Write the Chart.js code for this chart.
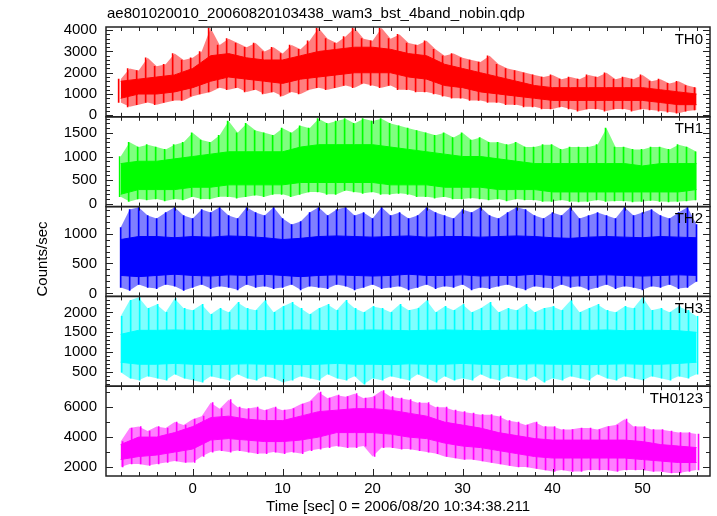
<!DOCTYPE html>
<html>
<head>
<meta charset="utf-8">
<script src="https://cdn.jsdelivr.net/npm/chart.js@4.4.1/dist/chart.umd.min.js"></script>
<style>
  html, body { margin: 0; padding: 0; background: #fff; }
  canvas { display: block; }
</style>
</head>
<body>
<canvas id="lcChart" width="717" height="516"></canvas>
<script>
// === DATA ===
const panelNames = ['TH0', 'TH1', 'TH2', 'TH3', 'TH0123'];
const xTicks = [0, 10, 20, 30, 40, 50];
const th0Ticks = [0, 1000, 2000, 3000, 4000];
const th1Ticks = [0, 500, 1000, 1500];
const th2Ticks = [0, 500, 1000];
const th3Ticks = [500, 1000, 1500, 2000];
const th0123Ticks = [2000, 4000, 6000];
const coreStart = -8, coreStep = 2;   // dense band sampled every 2 s
const spikeStart = -8, spikeStep = 1; // spike extremes sampled every 1 s

// TH0
const th0CoreLo = [800, 1000, 1000, 1100, 1300, 1600, 1800, 1700, 1600, 1500, 1700, 1800, 1900, 2000, 2000, 2000, 1800,
  1700, 1400, 1300, 1100, 1000, 900, 800, 700, 700, 700, 700, 700, 700, 600, 500, 500];
const th0CoreHi = [1600, 1700, 1800, 1900, 2200, 2800, 2900, 2700, 2600, 2600, 2800, 3000, 3100, 3200, 3200, 3100, 2900,
  2800, 2400, 2200, 2000, 1800, 1600, 1400, 1300, 1300, 1300, 1300, 1300, 1300, 1200, 1100, 1000];
const th0SpikeHi = [
  1700, 2200, 2100, 2700, 2300, 2400, 2900, 2600, 2700, 3000, 4100, 3300, 3600,
  3400, 3200, 3400, 3000, 3200, 2900, 3300, 3100, 3500, 4100, 3600, 3400, 3700,
  4100, 3600, 3500, 4100, 3600, 3800, 3400, 3300, 3500, 3100, 2800, 2900, 2700,
  2600, 2500, 2800, 2400, 2200, 2100, 2000, 1900, 1800, 1900, 1700, 1800, 1700,
  1900, 1800, 2000, 1700, 1800, 1700, 1900, 1600, 1700, 1500, 1600, 1400, 1300];
const th0SpikeLo = [
  600, 400, 500, 600, 500, 600, 700, 700, 900, 1000, 1100, 1300, 1200,
  1300, 1100, 1200, 1000, 1100, 900, 1100, 1000, 1200, 1300, 1200, 1300, 1400,
  1300, 1500, 1400, 1300, 1400, 1200, 1200, 1100, 1100, 1000, 900, 800, 800,
  700, 700, 600, 600, 500, 500, 400, 400, 300, 300, 400, 300, 200,
  300, 300, 200, 300, 300, 200, 300, 250, 200, 150, 100, 200, 250];

// TH1
const th1CoreLo = [200, 300, 300, 300, 350, 350, 400, 400, 400, 400, 450, 450, 450, 450, 450, 400, 400,
  400, 350, 350, 350, 300, 300, 300, 250, 250, 250, 250, 250, 250, 250, 250, 300];
const th1CoreHi = [850, 900, 900, 950, 1000, 1050, 1100, 1100, 1100, 1100, 1200, 1250, 1250, 1250, 1250, 1200, 1150,
  1100, 1050, 1000, 1000, 950, 900, 850, 850, 850, 850, 850, 850, 800, 850, 850, 850];
const th1SpikeHi = [
  1000, 1300, 1200, 1250, 1200, 1150, 1250, 1300, 1500, 1350, 1300, 1450, 1750,
  1500, 1700, 1550, 1500, 1450, 1600, 1500, 1650, 1600, 1800, 1700, 1750, 1800,
  1700, 1800, 1750, 1800, 1700, 1650, 1600, 1550, 1500, 1450, 1500, 1400, 1500,
  1350, 1400, 1300, 1300, 1250, 1300, 1200, 1200, 1250, 1250, 1150, 1200, 1200,
  1200, 1250, 1600, 1200, 1200, 1150, 1150, 1200, 1200, 1150, 1250, 1200, 1100];
const th1SpikeLo = [
  150, 50, 100, 80, 100, 60, 100, 80, 150, 100, 100, 150, 150,
  120, 150, 180, 150, 200, 200, 150, 200, 250, 250, 200, 200, 280,
  250, 220, 250, 200, 200, 220, 200, 150, 150, 120, 150, 100, 100,
  120, 100, 80, 100, 60, 100, 80, 80, 50, 50, 80, 50, 40,
  50, 80, 50, 60, 60, 40, 50, 70, 50, 40, 50, 60, 80];

// TH2
const th2CoreLo = [300, 280, 300, 320, 300, 290, 310, 300, 320, 300, 280, 300, 310, 300, 290, 300, 320,
  300, 300, 310, 290, 300, 300, 320, 300, 290, 300, 310, 300, 290, 300, 310, 300];
const th2CoreHi = [900, 950, 950, 930, 950, 940, 960, 950, 930, 900, 920, 950, 960, 950, 940, 950, 960,
  940, 950, 950, 940, 950, 960, 950, 930, 920, 940, 950, 940, 930, 950, 940, 930];
const th2SpikeHi = [
  1100, 1400, 1440, 1300, 1250, 1350, 1440, 1300, 1250, 1400, 1350, 1440, 1300,
  1250, 1440, 1350, 1300, 1440, 1250, 1150, 1200, 1350, 1440, 1300, 1400, 1440,
  1300, 1350, 1250, 1440, 1300, 1350, 1250, 1300, 1440, 1350, 1300, 1250, 1400,
  1350, 1440, 1300, 1250, 1350, 1440, 1400, 1300, 1250, 1350, 1300, 1440, 1250,
  1300, 1350, 1300, 1250, 1440, 1300, 1350, 1400, 1300, 1250, 1350, 1440, 1150];
const th2SpikeLo = [
  100, 50, 150, 100, 80, 150, 120, 50, 100, 150, 80, 120, 100,
  60, 150, 100, 120, 80, 100, 150, 60, 120, 100, 80, 150, 120,
  60, 100, 150, 80, 100, 120, 60, 100, 150, 80, 120, 100, 150,
  60, 100, 80, 120, 150, 100, 60, 120, 100, 80, 150, 100, 120,
  60, 100, 150, 80, 120, 100, 60, 120, 100, 150, 80, 100, 200];

// TH3
const th3CoreLo = [750, 700, 700, 720, 700, 690, 700, 710, 700, 700, 690, 700, 720, 700, 700, 690, 710,
  700, 700, 720, 700, 690, 700, 710, 700, 700, 690, 700, 710, 700, 700, 720, 750];
const th3CoreHi = [1450, 1550, 1550, 1560, 1550, 1540, 1560, 1550, 1540, 1550, 1560, 1550, 1540, 1550, 1560, 1550, 1540,
  1550, 1560, 1550, 1540, 1550, 1550, 1560, 1540, 1550, 1550, 1560, 1540, 1550, 1550, 1540, 1500];
const th3SpikeHi = [
  1900, 2300, 2380, 2100, 2200, 2000, 2350, 2100, 2050, 2200, 1950, 2100, 2000,
  2250, 2100, 2050, 2300, 2000, 2150, 2250, 2100, 1950, 2100, 2200, 2050, 2300,
  2100, 2000, 2150, 2100, 2000, 2200, 2050, 2100, 2300, 2000, 2150, 2050, 2200,
  2000, 2100, 2250, 2000, 2100, 2050, 2200, 2000, 2100, 2150, 2050, 2300, 2000,
  2100, 2200, 2050, 2000, 2150, 2100, 2380, 2050, 2100, 2000, 2150, 2050, 1900];
const th3SpikeLo = [
  500, 350, 300, 400, 350, 300, 450, 350, 300, 250, 400, 350, 300,
  450, 350, 300, 400, 350, 250, 300, 400, 350, 300, 450, 350, 300,
  400, 200, 350, 300, 400, 350, 300, 450, 350, 250, 400, 300, 350,
  300, 450, 350, 300, 400, 350, 300, 400, 250, 350, 300, 400, 350,
  300, 450, 350, 300, 400, 350, 300, 400, 350, 300, 400, 350, 450];

// TH0123
const th0123CoreLo = [2500, 2700, 2800, 3000, 3200, 3800, 3900, 3800, 3700, 3700, 3800, 4000, 4300, 4300, 4300, 4200, 4000,
  3900, 3600, 3400, 3300, 3100, 2900, 2700, 2600, 2600, 2600, 2600, 2600, 2500, 2400, 2300, 2300];
const th0123CoreHi = [3500, 4000, 4000, 4300, 4700, 5300, 5400, 5200, 5100, 5100, 5400, 5700, 5800, 5900, 5900, 5800, 5600,
  5400, 5000, 4800, 4600, 4300, 4100, 3900, 3800, 3800, 3800, 3800, 3800, 3700, 3500, 3400, 3300];
const th0123SpikeHi = [
  3700, 4600, 4700, 4400, 4700, 4600, 5000, 4800, 5200, 5400, 6300, 5900, 6500,
  6000, 5900, 6000, 5800, 6000, 5800, 5900, 6200, 6400, 7000, 6600, 6800, 6700,
  6900, 6600, 6700, 7100, 6700, 6600, 6500, 6300, 6300, 6000, 6000, 5800, 5700,
  5600, 5500, 5500, 5400, 5100, 5000, 4800, 5000, 4700, 4700, 4500, 4500, 4600,
  4600, 4500, 4700, 4800, 5200, 4700, 4700, 4500, 4500, 4400, 4300, 4300, 4200];
const th0123SpikeLo = [
  2000, 2200, 2200, 2100, 2200, 2300, 2400, 2300, 2300, 2700, 3000, 3100, 3000,
  3100, 3000, 2900, 2900, 3000, 2900, 3000, 2900, 3100, 3200, 3300, 3400, 3300,
  3300, 3400, 2700, 3300, 3300, 3200, 3200, 3100, 3000, 2900, 2700, 2600, 2500,
  2500, 2400, 2300, 2200, 2100, 2000, 2000, 1900, 1800, 1700, 1800, 1700, 1700,
  1800, 1800, 1800, 1700, 1800, 1800, 1800, 1700, 1700, 1600, 1600, 1700, 1800];

// === PANELS ===
const FONT = '"Liberation Sans", Arial, Helvetica, sans-serif';
const panels = [
  { id: 'y0', color: '#ff0000', pale: 'rgba(255,0,0,0.5)', min: -70, max: 4150, step: 1000, minor: 200, ticks: th0Ticks,
    lo: th0CoreLo, hi: th0CoreHi, sHi: th0SpikeHi, sLo: th0SpikeLo },
  { id: 'y1', color: '#00ff00', pale: 'rgba(0,255,0,0.5)', min: -60, max: 1840, step: 500, minor: 100, ticks: th1Ticks,
    lo: th1CoreLo, hi: th1CoreHi, sHi: th1SpikeHi, sLo: th1SpikeLo },
  { id: 'y2', color: '#0000ff', pale: 'rgba(0,0,255,0.5)', min: -50, max: 1450, step: 500, minor: 100, ticks: th2Ticks,
    lo: th2CoreLo, hi: th2CoreHi, sHi: th2SpikeHi, sLo: th2SpikeLo },
  { id: 'y3', color: '#00ffff', pale: 'rgba(0,255,255,0.5)', min: 150, max: 2400, step: 500, minor: 100, ticks: th3Ticks,
    lo: th3CoreLo, hi: th3CoreHi, sHi: th3SpikeHi, sLo: th3SpikeLo },
  { id: 'y4', color: '#ff00ff', pale: 'rgba(255,0,255,0.5)', min: 1400, max: 7400, step: 2000, minor: 1000, ticks: th0123Ticks,
    lo: th0123CoreLo, hi: th0123CoreHi, sHi: th0123SpikeHi, sLo: th0123SpikeLo }
];

const datasets = [];
panels.forEach(p => {
  const core = arr => arr.map((v, i) => ({ x: coreStart + i * coreStep, y: v }));
  const env = arr => arr.map((v, i) => ({ x: spikeStart + i * spikeStep, y: v }));
  const spikes = p.sHi.map((v, i) => ({ x: spikeStart + i * spikeStep, y: [p.sLo[i], v] }));
  const base = { type: 'line', yAxisID: p.id, pointRadius: 0, borderWidth: 1 };
  datasets.push({ ...base, order: 3, data: env(p.sLo), borderColor: 'transparent', fill: false });
  datasets.push({ ...base, order: 3, data: env(p.sHi), borderColor: 'transparent', backgroundColor: p.pale, fill: '-1' });
  datasets.push({ ...base, order: 2, data: core(p.lo), borderColor: p.color, fill: false });
  datasets.push({ ...base, order: 2, data: core(p.hi), borderColor: p.color, backgroundColor: p.color, fill: '-1' });
  datasets.push({ type: 'bar', order: 1, yAxisID: p.id, data: spikes, backgroundColor: p.color, barThickness: 1, borderWidth: 0 });
});

const scales = {
  x: {
    type: 'linear', min: -9.63, max: 57.5, offset: false,
    grid: { display: false, drawTicks: false }, border: { display: false },
    ticks: { color: '#000', padding: 4, autoSkip: false, font: { family: FONT, size: 15 } },
    afterBuildTicks(scale) { scale.ticks = xTicks.map(v => ({ value: v })); },
    afterFit(scale) { scale.height = 40; }
  }
};
// stacked scales are laid out bottom-up, so add the lowest panel first
panels.slice().reverse().forEach(p => {
  scales[p.id] = {
    type: 'linear', position: 'left', stack: 'panels', stackWeight: 1, offset: false,
    min: p.min, max: p.max,
    grid: { display: false, drawTicks: false }, border: { display: false },
    ticks: { color: '#000', padding: 9, autoSkip: false, font: { family: FONT, size: 15 }, callback: v => String(v) },
    afterBuildTicks(scale) { scale.ticks = p.ticks.map(v => ({ value: v })); },
    afterFit(scale) { scale.width = 106; }
  };
});

// frames, inward ticks and panel text
const qdpFrame = {
  id: 'qdpFrame',
  afterDatasetsDraw(chart) {
    const ctx = chart.ctx, xs = chart.scales.x;
    ctx.save();
    panels.forEach((p, k) => {
      const ys = chart.scales[p.id];
      const L = xs.left, R = xs.right, T = ys.top, B = ys.bottom;
      ctx.strokeStyle = '#222';
      ctx.lineWidth = 1;
      ctx.beginPath();
      for (let v = Math.ceil(xs.min / 2) * 2; v <= xs.max; v += 2) {
        const px = Math.round(xs.getPixelForValue(v)) + 0.5;
        const len = v % 10 === 0 ? 7 : 4;
        ctx.moveTo(px, T); ctx.lineTo(px, T + len);
        ctx.moveTo(px, B); ctx.lineTo(px, B - len);
      }
      for (let v = Math.ceil(p.min / p.minor) * p.minor; v <= p.max; v += p.minor) {
        const py = Math.round(ys.getPixelForValue(v)) + 0.5;
        const len = v % p.step === 0 ? 7 : 4;
        ctx.moveTo(L, py); ctx.lineTo(L + len, py);
        ctx.moveTo(R, py); ctx.lineTo(R - len, py);
      }
      ctx.stroke();
      ctx.lineWidth = 1.5;
      ctx.strokeRect(L, T, R - L, B - T);
      ctx.fillStyle = '#000';
      ctx.font = '15px ' + FONT;
      ctx.textAlign = 'right';
      ctx.textBaseline = 'alphabetic';
      ctx.fillText(panelNames[k], R - 7, T + 16.5);
    });
    ctx.textAlign = 'left';
    ctx.font = '15px ' + FONT;
    ctx.fillText('ae801020010_20060820103438_wam3_bst_4band_nobin.qdp', 107, 18);
    ctx.textAlign = 'center';
    ctx.fillText('Time [sec] 0 = 2006/08/20 10:34:38.211', 398, 511);
    ctx.translate(47, 259);
    ctx.rotate(-Math.PI / 2);
    ctx.fillText('Counts/sec', 0, 0);
    ctx.restore();
  }
};

new Chart(document.getElementById('lcChart').getContext('2d'), {
  data: { datasets },
  options: {
    responsive: false,
    animation: false,
    devicePixelRatio: 1,
    layout: { padding: { top: 27, right: 7, left: 0, bottom: 0 } },
    plugins: { legend: { display: false }, tooltip: { enabled: false } },
    scales
  },
  plugins: [qdpFrame]
});
</script>
</body>
</html>
